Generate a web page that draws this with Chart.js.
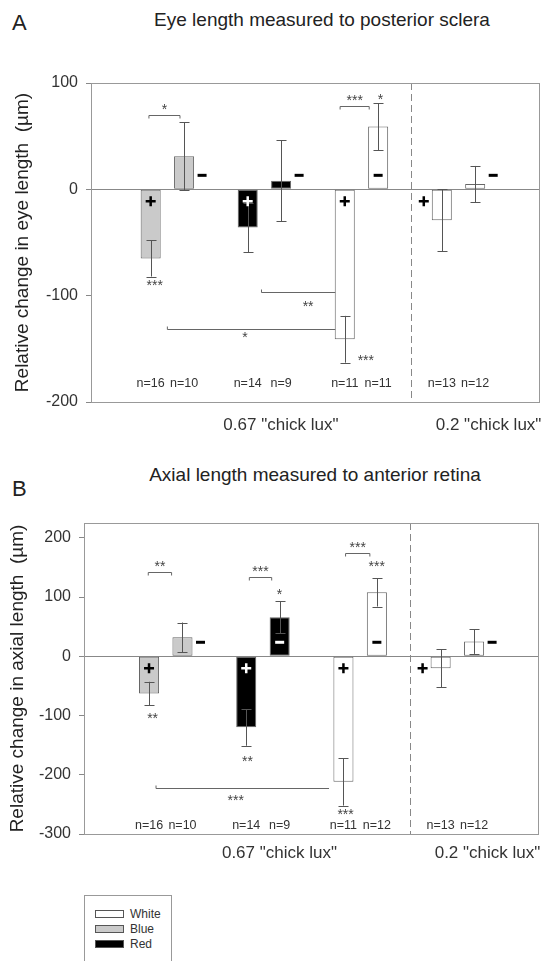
<!DOCTYPE html>
<html lang="en">
<head>
  <meta charset="UTF-8">
  <title>Eye length and axial length under coloured light</title>
  <script src="https://cdn.jsdelivr.net/npm/chart.js"></script>
  <style>
    body {
      margin: 0;
      background: #fff;
      font-family: "Liberation Sans", Arial, sans-serif;
      color: #222;
      overflow: hidden;
    }
    #page {
      position: relative;
      width: 543px;
      height: 961px;
    }
    .letter {
      position: absolute;
      left: 12px;
      font-size: 22px;
      line-height: 26px;
    }
    .title {
      position: absolute;
      width: 500px;
      text-align: center;
      font-size: 19px;
      line-height: 22px;
    }
    .chart-box {
      position: absolute;
      left: 0;
      width: 543px;
    }
    #legend {
      position: absolute;
      left: 84px;
      top: 895px;
      width: 88px;
      height: 75px;
      border: 1px solid #999;
      box-sizing: border-box;
      padding: 10px 0 0 10px;
      font-size: 12px;
      color: #333;
    }
    .legend-row {
      display: flex;
      align-items: center;
      height: 15px;
    }
    .swatch {
      width: 27px;
      height: 6px;
      border: 1px solid #555;
      margin-right: 6px;
    }
  </style>
</head>
<body>
<div id="page">
  <div class="letter" style="top:10px">A</div>
  <div class="title" style="left:72px; top:9px">Eye length measured to posterior sclera</div>
  <div class="chart-box" style="top:60px; height:380px"><canvas id="eyeChart"></canvas></div>

  <div class="letter" style="top:476px">B</div>
  <div class="title" style="left:65px; top:464px">Axial length measured to anterior retina</div>
  <div class="chart-box" style="top:500px; height:375px"><canvas id="axialChart"></canvas></div>

  <div id="legend"></div>
</div>

<script>
  // groups along the x axis: light colour of each group (first three at 0.67, last at 0.2 "chick lux")
  const groups = ['Blue', 'Red', 'White', 'White'];
  const luxLabels = ['0.67 "chick lux"', '0.2 "chick lux"'];
  const luxTickPos = [2.17, 4.31];
  const legendNames = ['White', 'Blue', 'Red'];

  // A: eye length measured to posterior sclera (um), + lens and - lens eyes
  const eyeTicks = [100, 0, -100, -200];
  const eyePlus = [-65, -36, -141, -29];
  const eyePlusSem = [17, 23, 22, 29];
  const eyeMinus = [31, 8, 59, 5];
  const eyeMinusSem = [32, 38, 22, 17];
  const eyePlusN = [16, 14, 11, 13];
  const eyeMinusN = [10, 9, 11, 12];

  // B: axial length measured to anterior retina (um)
  const axialTicks = [200, 100, 0, -100, -200, -300];
  const axialPlus = [-63, -120, -212, -20];
  const axialPlusSem = [20, 31, 40, 32];
  const axialMinus = [32, 66, 108, 25];
  const axialMinusSem = [25, 27, 24, 21];
  const axialPlusN = [16, 14, 11, 13];
  const axialMinusN = [10, 9, 12, 12];

  // significance marks (x in group units, y in um)
  const eyeSig = [
    { type: 'bracket', x1: 0.81, x2: 1.13, y: 70, text: '*' },
    { type: 'text', x: 0.87, y: -87, text: '***' },
    { type: 'bracket', x1: 2.78, x2: 3.08, y: 78, text: '***' },
    { type: 'text', x: 3.195, y: 88, text: '*' },
    { type: 'text', x: 3.045, y: -158, text: '***' },
    { type: 'line', x1: 1.97, x2: 2.73, y: -97, text: '**', tx: 2.45, ty: -107 },
    { type: 'line', x1: 1.0, x2: 2.73, y: -131, text: '*', tx: 1.8, ty: -136 }
  ];
  const axialSig = [
    { type: 'bracket', x1: 0.82, x2: 1.06, y: 143, text: '**' },
    { type: 'text', x: 0.865, y: -99, text: '**' },
    { type: 'bracket', x1: 1.86, x2: 2.09, y: 133, text: '***' },
    { type: 'text', x: 2.17, y: 111, text: '*' },
    { type: 'text', x: 1.84, y: -171, text: '**' },
    { type: 'bracket', x1: 2.85, x2: 3.1, y: 175, text: '***' },
    { type: 'text', x: 3.17, y: 158, text: '***' },
    { type: 'text', x: 2.85, y: -262, text: '***' },
    { type: 'line', x1: 0.9, x2: 2.68, y: -222, text: '***', tx: 1.72, ty: -237 }
  ];

  const fills = { White: '#ffffff', Blue: '#cacaca', Red: '#000000' };
  const FONT = '"Liberation Sans", Arial, sans-serif';

  Chart.defaults.font.family = FONT;
  Chart.defaults.color = '#333';

  // legend
  const legend = document.getElementById('legend');
  legendNames.forEach(name => {
    const row = document.createElement('div');
    row.className = 'legend-row';
    row.innerHTML = '<span class="swatch" style="background:' + fills[name] + '"></span>' + name;
    legend.appendChild(row);
  });

  function stars(ctx, text, x, y) {
    ctx.font = '14px ' + FONT;
    ctx.fillStyle = '#444';
    ctx.textAlign = 'center';
    ctx.textBaseline = 'alphabetic';
    ctx.fillText(text, x, y + 8);
  }

  // error bars, +/- signs, n labels, divider and significance marks
  function extras(p) {
    return {
      id: 'extras',
      afterDatasetsDraw(chart) {
        const ctx = chart.ctx, xs = chart.scales.x, ys = chart.scales.y, area = chart.chartArea;
        const zero = ys.getPixelForValue(0);
        ctx.save();

        // divider between 0.67 and 0.2 "chick lux"
        const dx = Math.round(xs.getPixelForValue(p.divider)) + 0.5;
        ctx.strokeStyle = '#888';
        ctx.lineWidth = 1;
        ctx.setLineDash([7, 4]);
        ctx.beginPath();
        ctx.moveTo(dx, area.top);
        ctx.lineTo(dx, area.bottom);
        ctx.stroke();
        ctx.setLineDash([]);

        const sems = [p.plusSem, p.minusSem];
        const ns = [p.plusN, p.minusN];
        chart.data.datasets.forEach((ds, di) => {
          chart.getDatasetMeta(di).data.forEach((bar, i) => {
            const v = ds.data[i].y, e = sems[di][i];
            const x = Math.round(bar.x) + 0.5;
            const t = ys.getPixelForValue(v + e), b = ys.getPixelForValue(v - e);
            ctx.strokeStyle = '#555';
            ctx.lineWidth = 1;
            ctx.beginPath();
            ctx.moveTo(x, t); ctx.lineTo(x, b);
            ctx.moveTo(x - 5, Math.round(t) + 0.5); ctx.lineTo(x + 5, Math.round(t) + 0.5);
            ctx.moveTo(x - 5, Math.round(b) + 0.5); ctx.lineTo(x + 5, Math.round(b) + 0.5);
            ctx.stroke();

            // lens sign
            const inside = Math.abs(bar.y - bar.base) > 35;
            const side = di === 0 ? -1 : 1;
            const mx = inside ? bar.x : bar.x + side * (bar.width / 2 + 8);
            const my = di === 0 ? zero + 12 : zero - 14;
            ctx.strokeStyle = inside && fills[groups[i]] === '#000000' ? '#fff' : '#000';
            ctx.beginPath();
            if (di === 0) {
              ctx.lineWidth = 2.5;
              ctx.moveTo(mx - 5, my); ctx.lineTo(mx + 5, my);
              ctx.moveTo(mx, my - 5); ctx.lineTo(mx, my + 5);
            } else {
              ctx.lineWidth = 3;
              ctx.moveTo(mx - 4.5, my); ctx.lineTo(mx + 4.5, my);
            }
            ctx.stroke();

            // sample size
            ctx.font = '12.5px ' + FONT;
            ctx.fillStyle = '#333';
            ctx.textAlign = 'center';
            ctx.textBaseline = 'middle';
            ctx.fillText('n=' + ns[di][i], bar.x, ys.getPixelForValue(p.nY));
          });
        });

        // significance
        ctx.strokeStyle = '#666';
        ctx.lineWidth = 1;
        p.sig.forEach(s => {
          if (s.type === 'text') {
            stars(ctx, s.text, xs.getPixelForValue(s.x), ys.getPixelForValue(s.y));
            return;
          }
          const x1 = xs.getPixelForValue(s.x1), x2 = xs.getPixelForValue(s.x2);
          const y = Math.round(ys.getPixelForValue(s.y)) + 0.5;
          ctx.beginPath();
          if (s.type === 'bracket') {
            ctx.moveTo(x1, y + 3); ctx.lineTo(x1, y); ctx.lineTo(x2, y); ctx.lineTo(x2, y + 3);
            ctx.stroke();
            stars(ctx, s.text, (x1 + x2) / 2, y - 10);
          } else {
            ctx.moveTo(x1, y - 3); ctx.lineTo(x1, y); ctx.lineTo(x2, y);
            ctx.stroke();
            stars(ctx, s.text, xs.getPixelForValue(s.tx), ys.getPixelForValue(s.ty));
          }
        });
        ctx.restore();
      },
      afterDraw(chart) {
        const a = chart.chartArea, ctx = chart.ctx;
        ctx.save();
        ctx.strokeStyle = '#999';
        ctx.lineWidth = 1;
        ctx.strokeRect(Math.round(a.left) + 0.5, Math.round(a.top) + 0.5,
          Math.round(a.right - a.left) - 1, Math.round(a.bottom - a.top));
        ctx.restore();
      }
    };
  }

  function makePanel(id, p) {
    const bars = (vals) => vals.map((v, i) => ({ x: i + 1, y: v }));
    const common = {
      backgroundColor: groups.map(g => fills[g]),
      borderColor: '#666',
      borderWidth: 1,
      borderSkipped: false,
      categoryPercentage: 0.688,
      barPercentage: 0.6
    };
    new Chart(document.getElementById(id), {
      type: 'bar',
      data: {
        datasets: [
          Object.assign({ label: '+ lens', data: bars(p.plus) }, common),
          Object.assign({ label: '- lens', data: bars(p.minus) }, common)
        ]
      },
      options: {
        responsive: true,
        maintainAspectRatio: false,
        animation: false,
        layout: { padding: { top: 23, right: p.right, left: 0, bottom: 0 } },
        plugins: { legend: { display: false }, tooltip: { enabled: false } },
        scales: {
          x: {
            type: 'linear',
            min: p.xMin,
            max: 4.84,
            offset: false,
            grid: { display: false, drawTicks: false },
            border: { display: false },
            afterBuildTicks: s => { s.ticks = luxTickPos.map(v => ({ value: v })); },
            afterFit: s => { s.height = p.xHeight; s.paddingLeft = 0; s.paddingRight = 0; },
            ticks: {
              autoSkip: false,
              maxRotation: 0,
              padding: p.xPad,
              font: { size: 17 },
              color: '#333',
              callback: (v, i) => luxLabels[i]
            }
          },
          y: {
            min: p.yMin,
            max: p.yMax,
            afterBuildTicks: s => { s.ticks = p.ticks.map(v => ({ value: v })); },
            afterFit: s => { s.width = p.yWidth; s.paddingTop = 0; s.paddingBottom = 0; },
            ticks: { padding: 8, font: { size: 16 }, color: '#333' },
            grid: {
              color: c => (c.tick && c.tick.value === 0 ? '#888' : 'rgba(0,0,0,0)'),
              tickColor: '#888',
              tickLength: 5
            },
            border: { display: false },
            title: {
              display: true,
              text: p.yTitle,
              font: { size: 19 },
              color: '#222',
              padding: { top: p.titlePad, bottom: 0 }
            }
          }
        }
      },
      plugins: [extras(p)]
    });
  }

  makePanel('eyeChart', {
    plus: eyePlus, minus: eyeMinus, plusSem: eyePlusSem, minusSem: eyeMinusSem,
    plusN: eyePlusN, minusN: eyeMinusN, sig: eyeSig, ticks: eyeTicks,
    yMin: -200, yMax: 100, nY: -183, divider: 3.51,
    yTitle: 'Relative change in eye length  (\u00b5m)',
    xMin: 0.213, yWidth: 91, right: 3, xHeight: 38, xPad: 13, titlePad: 11
  });

  makePanel('axialChart', {
    plus: axialPlus, minus: axialMinus, plusSem: axialPlusSem, minusSem: axialMinusSem,
    plusN: axialPlusN, minusN: axialMinusN, sig: axialSig, ticks: axialTicks,
    yMin: -300, yMax: 225, nY: -286, divider: 3.51,
    yTitle: 'Relative change in axial length  (\u00b5m)',
    xMin: 0.159, yWidth: 84, right: 4, xHeight: 41, xPad: 9, titlePad: 6
  });
</script>
</body>
</html>
